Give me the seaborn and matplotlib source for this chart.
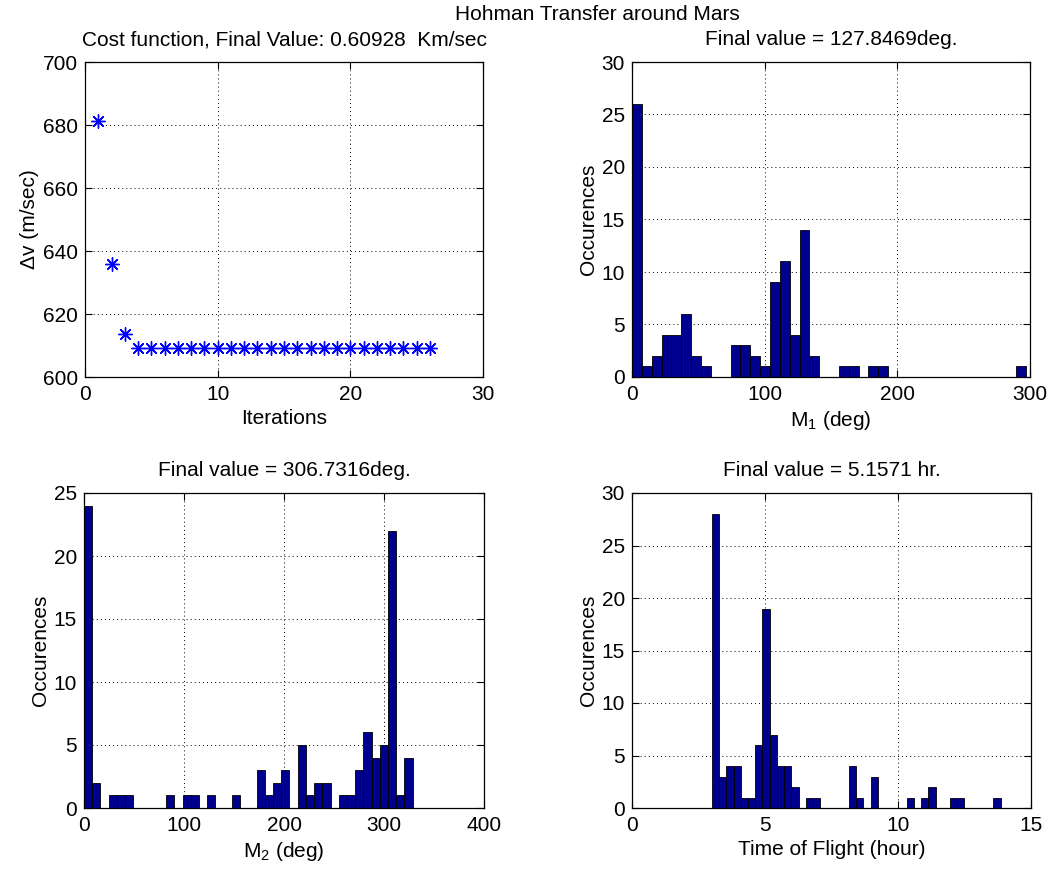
import numpy as np
import pandas as pd
import matplotlib
matplotlib.use("Agg")
import matplotlib.pyplot as plt
import seaborn as sns

# Cost function history (m/sec) per iteration
iterations = list(range(1, 27))
delta_v = [681.2, 635.9, 613.5, 609.28, 609.28, 609.28, 609.28, 609.28, 609.28,
           609.28, 609.28, 609.28, 609.28, 609.28, 609.28, 609.28, 609.28, 609.28,
           609.28, 609.28, 609.28, 609.28, 609.28, 609.28, 609.28, 609.28]

# Histogram counts (40 bins each) and the data span they cover
m1_counts = [26, 1, 2, 4, 4, 6, 2, 1, 0, 0, 3, 3, 2, 1, 9, 11, 4, 14, 2, 0,
             0, 1, 1, 0, 1, 1, 0, 0, 0, 0, 0, 0, 0, 0, 0, 0, 0, 0, 0, 1]
m1_range = (0.0, 297.1)

m2_counts = [24, 2, 0, 1, 1, 1, 0, 0, 0, 0, 1, 0, 1, 1, 0, 1, 0, 0, 1, 0,
             0, 3, 1, 2, 3, 0, 5, 1, 2, 2, 0, 1, 1, 3, 6, 4, 5, 22, 1, 4]
m2_range = (0.0, 328.7)

tof_counts = [28, 3, 4, 4, 1, 1, 6, 19, 7, 4, 4, 2, 0, 1, 1, 0, 0, 0, 0, 4,
              1, 0, 3, 0, 0, 0, 0, 1, 0, 1, 2, 0, 0, 1, 1, 0, 0, 0, 0, 1]
tof_range = (3.007, 13.855)

suptitle = "Hohman Transfer around Mars"
cost_title = "Cost function, Final Value: 0.60928  Km/sec"
m1_title = "Final value = 127.8469deg."
m2_title = "Final value = 306.7316deg."
tof_title = "Final value = 5.1571 hr."

sns.set_theme(style="white")
FS = 15
plt.rcParams.update({
    "font.family": ["Liberation Sans", "DejaVu Sans"],
    "font.size": FS,
    "axes.titlesize": FS,
    "axes.labelsize": FS,
    "xtick.labelsize": FS,
    "ytick.labelsize": FS,
    "axes.edgecolor": "black",
    "axes.linewidth": 0.9,
    "xtick.direction": "in",
    "ytick.direction": "in",
    "xtick.top": True,
    "ytick.right": True,
    "xtick.bottom": True,
    "ytick.left": True,
    "xtick.major.size": 5,
    "ytick.major.size": 5,
    "xtick.major.width": 0.8,
    "ytick.major.width": 0.8,
    "xtick.major.pad": 6,
    "ytick.major.pad": 5,
    "xtick.color": "black",
    "ytick.color": "black",
    "text.color": "black",
    "axes.labelcolor": "black",
    "axes.labelpad": 3,
    "mathtext.default": "regular",
    "axes.facecolor": "white",
    "figure.facecolor": "white",
})

W, H = 1052, 871
fig = plt.figure(figsize=(W / 100, H / 100), dpi=100)


def add_axes(x0, y0, x1, y1):
    return fig.add_axes([x0 / W, 1 - y1 / H, (x1 - x0) / W, (y1 - y0) / H])


def style_axes(ax):
    ax.set_axisbelow(True)
    ax.grid(True, color="black", linestyle=(0, (1, 3.2)), linewidth=0.7)
    for sp in ax.spines.values():
        sp.set_visible(True)
        sp.set_color("black")


def draw_hist(ax, counts, rng):
    edges = np.linspace(rng[0], rng[1], len(counts) + 1)
    centers = (edges[:-1] + edges[1:]) / 2
    df = pd.DataFrame({"value": centers, "count": counts})
    sns.histplot(data=df, x="value", weights="count", bins=edges.tolist(),
                 color="#00008F", edgecolor="black", linewidth=0.6,
                 alpha=1, ax=ax)


# Cost function
ax1 = add_axes(85, 62, 483, 377)
sns.scatterplot(x=iterations, y=delta_v, marker=(8, 2, 0), s=95,
                color="blue", linewidth=1.0, ax=ax1)
ax1.set_xlim(0, 30)
ax1.set_ylim(600, 700)
ax1.set_xticks([0, 10, 20, 30])
ax1.set_yticks([600, 620, 640, 660, 680, 700])
ax1.set_xlabel("Iterations")
ax1.set_ylabel("Δv (m/sec)")
ax1.set_title(cost_title, pad=12)
style_axes(ax1)

# M1 histogram
ax2 = add_axes(632, 62, 1030, 377)
draw_hist(ax2, m1_counts, m1_range)
ax2.set_xlim(0, 300)
ax2.set_ylim(0, 30)
ax2.set_xticks([0, 100, 200, 300])
ax2.set_yticks([0, 5, 10, 15, 20, 25, 30])
ax2.set_xlabel("M$_1$ (deg)")
ax2.set_ylabel("Occurences")
ax2.set_title(m1_title, pad=12)
style_axes(ax2)

# M2 histogram
ax3 = add_axes(84, 493, 484, 808)
draw_hist(ax3, m2_counts, m2_range)
ax3.set_xlim(0, 400)
ax3.set_ylim(0, 25)
ax3.set_xticks([0, 100, 200, 300, 400])
ax3.set_yticks([0, 5, 10, 15, 20, 25])
ax3.set_xlabel("M$_2$ (deg)")
ax3.set_ylabel("Occurences")
ax3.set_title(m2_title, pad=12)
style_axes(ax3)

# Time of flight histogram
ax4 = add_axes(632, 493, 1031, 808)
draw_hist(ax4, tof_counts, tof_range)
ax4.set_xlim(0, 15)
ax4.set_ylim(0, 30)
ax4.set_xticks([0, 5, 10, 15])
ax4.set_yticks([0, 5, 10, 15, 20, 25, 30])
ax4.set_xlabel("Time of Flight (hour)")
ax4.set_ylabel("Occurences")
ax4.set_title(tof_title, pad=12)
style_axes(ax4)

fig.text(597 / W, 1 - 14 / H, suptitle, ha="center", va="center", fontsize=FS)

fig.savefig("out.png", dpi=100)
